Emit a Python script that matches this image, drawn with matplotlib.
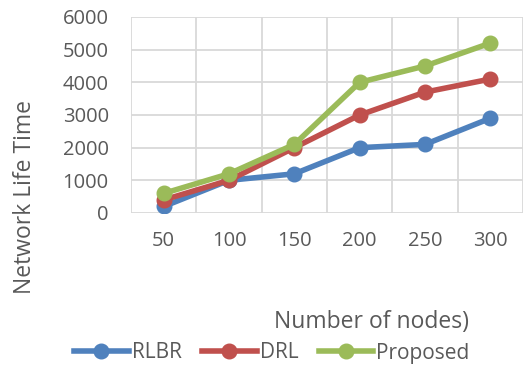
import matplotlib.pyplot as plt
from matplotlib.lines import Line2D

# Data
nodes = ["50", "100", "150", "200", "250", "300"]
rlbr = [200, 1000, 1200, 2000, 2100, 2900]
drl = [400, 1000, 2000, 3000, 3700, 4100]
proposed = [600, 1200, 2100, 4000, 4500, 5200]

colors = {"RLBR": "#4F81BD", "DRL": "#C0504D", "Proposed": "#9BBB59"}
plt.rcParams['font.family'] = ['Open Sans', 'DejaVu Sans']

fig = plt.figure(figsize=(5.23, 3.67), dpi=100)
W, H = 523, 367
ax = fig.add_axes([131 / W, 1 - 213 / H, (523 - 131) / W, (213 - 17) / H])

x = list(range(len(nodes)))
for name, vals in [("RLBR", rlbr), ("DRL", drl), ("Proposed", proposed)]:
    ax.plot(x, vals, color=colors[name], lw=4, marker="o", ms=10.5,
            solid_capstyle="round", zorder=3)

ax.set_xlim(-0.5, len(nodes) - 0.5)
ax.set_ylim(0, 6000)
ax.set_yticks(range(0, 6001, 1000))
ax.set_xticks(x)
ax.set_xticklabels(nodes)
ax.set_xticks([i + 0.5 for i in range(-1, len(nodes))], minor=True)
ax.grid(True, which="minor", axis="x", color="#D9D9D9", lw=1.3)
ax.grid(True, which="major", axis="y", color="#D9D9D9", lw=1.3)
ax.tick_params(which="both", length=0, labelsize=14.5, colors="#595959")
ax.tick_params(axis="y", pad=16)
ax.tick_params(axis="x", pad=13)
for s in ax.spines.values():
    s.set_visible(False)

fig.text(25 / W, 1 - 197 / H, "Network Life Time", rotation=90, ha="center",
         va="center", fontsize=16.5, color="#595959")
fig.text(372 / W, 1 - 322 / H, "Number of nodes)", ha="center", va="center",
         fontsize=16.5, color="#595959")

handles = [Line2D([], [], color=colors[n], lw=4, marker="o", ms=10.5) for n in colors]
fig.legend(handles, list(colors), loc="center", bbox_to_anchor=(272 / W, 1 - 353 / H),
           ncol=3, frameon=False, fontsize=15, labelcolor="#595959",
           handlelength=2.6, handletextpad=0.15, columnspacing=1.0)

fig.savefig("out.png", dpi=100)
